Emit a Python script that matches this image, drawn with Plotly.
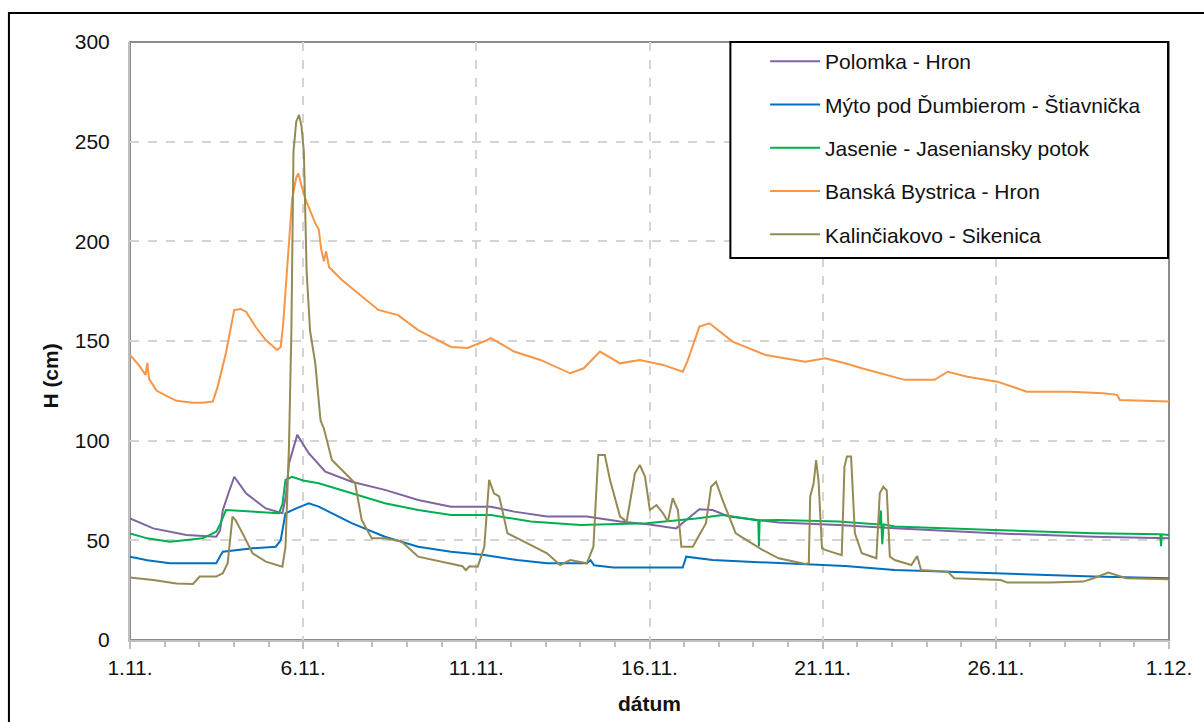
import plotly.graph_objects as go

# ---- data (day offset from 1.11., water level H in cm) ----
tick_vals = [0, 5, 10, 15, 20, 25, 30]
tick_text = ["1.11.", "6.11.", "11.11.", "16.11.", "21.11.", "26.11.", "1.12."]
y_ticks = [0, 50, 100, 150, 200, 250, 300]

names = ["Polomka - Hron", "Mýto pod Ďumbierom - Štiavnička", "Jasenie - Jaseniansky potok",
         "Banská Bystrica - Hron", "Kalinčiakovo - Sikenica"]

polomka_t = [0, 0.67, 1.63, 2.49, 2.6, 2.68, 2.85, 3.01, 3.35, 3.92, 4.4, 4.5, 4.59, 4.83, 5.16, 5.64, 6.4,
             7.36, 8.32, 9.27, 10.13, 10.42, 11.09, 12.04, 13.19, 14.15, 15.0, 15.77, 16.06, 16.44, 16.82,
             17.3, 18.73, 20.45, 22.08, 24.95, 27.82, 30]
polomka_h = [61, 56, 52.7, 51.8, 55, 65.2, 74, 81.9, 73.6, 66, 63.6, 72, 88.7, 102.9, 93.7, 84.5, 79.4,
             75.3, 70.2, 66.9, 66.9, 66.9, 64.4, 61.9, 61.9, 59.4, 58, 56, 60.2, 65.6, 65.2,
             61.9, 58.9, 57.7, 56, 53.5, 51.8, 51]

myto_t = [0, 0.5, 1.15, 2.49, 2.6, 2.68, 3.54, 4.21, 4.35, 4.49, 4.8, 5.16, 5.45, 6.4, 7.36, 8.32, 9.27,
          10.23, 11.18, 12.04, 13.19, 13.3, 13.4, 13.96, 15.96, 16.06, 16.82, 18.73, 20.65, 22.08, 24.95,
          27.82, 30]
myto_h = [41.8, 40, 38.5, 38.5, 42, 44.3, 46, 46.8, 50, 63.6, 66, 68.6, 66.9, 58.6, 51.8, 46.8, 44.3,
          42.6, 40.1, 38.5, 38.5, 40, 37.5, 36.4, 36.4, 41.8, 40.1, 38.5, 37.1, 35.1, 33.5,
          31.8, 31]

jasenie_t = [0, 0.5, 1.15, 1.6, 2.1, 2.49, 2.6, 2.77, 3.54, 4.3, 4.4, 4.49, 4.68, 5.0, 5.45, 6.4, 7.36,
             8.32, 9.27, 10.42, 11.0, 11.57, 13.0, 14.91, 16.35, 17.11, 18.14, 18.16, 18.18, 18.73, 20.45,
             21.64, 21.68, 21.72, 21.76, 22.08, 24.95, 27.82, 29.75, 29.77, 29.79, 30]
jasenie_h = [53.5, 51, 49.3, 50, 51, 54.3, 58, 65.2, 64.4, 63.6, 68, 80.3, 81.9, 80, 78.6, 73.6, 68.6,
             65.2, 62.7, 62.7, 61, 59.4, 57.7, 58.6, 61, 62.7, 60, 47, 60, 60.2, 59.4,
             58, 65, 48, 58, 56.9, 55.2, 53.5, 53, 47, 53, 52.7]

bb_t = [0, 0.25, 0.45, 0.5, 0.55, 0.77, 1.0, 1.34, 1.81, 2.1, 2.39, 2.53, 2.77, 3.01, 3.2, 3.35, 3.63,
        3.92, 4.25, 4.35, 4.42, 4.55, 4.68, 4.8, 4.86, 4.95, 5.07, 5.35, 5.45, 5.52, 5.6, 5.66, 5.75, 6.12,
        6.69, 7.17, 7.74, 8.32, 9.27, 9.75, 10.32, 10.42, 11.09, 11.85, 12.71, 13.1, 13.57, 14.15, 14.72,
        15.39, 15.96, 16.1, 16.44, 16.73, 17.4, 18.35, 19.5, 20.07, 20.65, 21.13, 22.37, 23.23, 23.61,
        24.18, 25.04, 25.9, 27.15, 28.1, 28.5, 28.58, 30.0]
bb_h = [143, 138, 133, 139, 131, 125, 123, 120, 119, 119, 119.6, 127, 144, 165.6, 166, 164.7, 157,
        150.5, 145.5, 147, 158, 190, 221, 232, 234, 228, 221, 209, 206, 196, 190, 195, 187, 180.6,
        172.3, 165.6, 163, 155.5, 147, 146.5, 150.5, 151.4, 144.7, 140.5, 133.8, 136.3, 144.7, 138.8, 140.5,
        138, 134.6, 140, 157.2, 158.9, 149.7, 143, 139.6, 141.3, 138.8, 136.3, 130.5, 130.5, 134.6,
        132.1, 129.6, 124.6, 124.6, 123.8, 123, 120.4, 119.6]

kal_t = [0, 0.67, 1.34, 1.82, 2.01, 2.49, 2.68, 2.82, 2.96, 3.05, 3.25, 3.54, 3.92, 4.4, 4.49, 4.59,
         4.66, 4.72, 4.8, 4.88, 4.95, 5.02, 5.1, 5.2, 5.35, 5.5, 5.55, 5.6, 5.83, 6.21, 6.5, 6.69, 6.98,
         7.36, 7.84, 8.32, 9.27, 9.6, 9.7, 9.8, 10.04, 10.23, 10.37, 10.51, 10.66, 10.9, 11.28, 12.04,
         12.42, 12.71, 13.19, 13.38, 13.52, 13.71, 13.86, 14.15, 14.34, 14.58, 14.72, 14.87, 15.01, 15.2,
         15.39, 15.53, 15.67, 15.82, 15.92, 16.25, 16.63, 16.78, 16.92, 17.11, 17.49, 18.26, 18.73, 19.5,
         19.6, 19.64, 19.74, 19.81, 19.88, 19.98, 20.07, 20.55, 20.63, 20.7, 20.82, 20.93, 21.13, 21.55,
         21.65, 21.75, 21.85, 21.94, 22.08, 22.56, 22.73, 22.84, 23.61, 23.8, 25.14, 25.33, 26.57, 27.53,
         27.82, 28.25, 28.77, 30]
kal_h = [31.3, 30.1, 28.4, 28.1, 31.8, 31.8, 33.5, 38.5, 61.9, 60, 53.5, 43.5, 39.3, 36.8, 46.8, 97,
         155, 245, 260, 263.4, 258, 245, 185, 155, 138.8, 110.4, 108, 106, 90.3, 83.6, 78.6, 60.2, 51,
         51, 49.4, 41.8, 38.5, 37, 35, 37, 36.8, 46.8, 80.3, 73.6, 72, 53.5, 50.2, 43.5,
         37.6, 40.1, 38.5, 46.8, 92.8, 92.8, 80.3, 61.9, 59.4, 83.6, 87.8, 82, 65.2, 67.7,
         63.6, 59.4, 71.1, 65.2, 46.8, 46.8, 58.6, 76.9, 79.4, 70.2, 53.5, 45.2, 41, 38.1,
         38.5, 72, 78.6, 90.3, 80, 46, 45.2, 42.6, 87, 92, 92, 53.5, 43.5, 41,
         73.6, 76.9, 75, 41.8, 40.1, 37.6, 42.1, 35.1, 34.3, 31, 30.1, 28.8, 28.8, 29.3,
         31, 33.8, 31, 30.5]

colors = ["#8064A2", "#0070C0", "#00B050", "#F79646", "#948A54"]
series = [(polomka_t, polomka_h), (myto_t, myto_h), (jasenie_t, jasenie_h), (bb_t, bb_h), (kal_t, kal_h)]

FONT = "Liberation Sans, Arial, sans-serif"
FS = 21
W, H = 1204, 722
L, R, T, B = 130, 27, 42, 82
PW, PH = W - L - R, H - T - B


def px(x):
    return (x - L) / PW


def py(y):
    return (H - B - y) / PH


fig = go.Figure()
for i, (name, (t, h)) in enumerate(zip(names, series)):
    fig.add_trace(go.Scatter(x=t, y=h, name=name, mode="lines", legendgroup=str(i),
                             line=dict(color=colors[i], width=2)))

fig.update_layout(
    width=W, height=H, margin=dict(l=L, r=R, t=T, b=B),
    paper_bgcolor="white", plot_bgcolor="white",
    font=dict(family=FONT, size=FS, color="#111111"),
    showlegend=True,
    legend=dict(x=px(770), y=py(41), xanchor="left", yanchor="top", bgcolor="rgba(0,0,0,0)",
                borderwidth=0, tracegroupgap=13, itemwidth=50,
                font=dict(family=FONT, size=FS, color="#111111")),
    xaxis=dict(range=[0, 30], tickvals=tick_vals, ticktext=tick_text, showgrid=True,
               gridcolor="#D4D4D4", griddash="dash", gridwidth=1.5,
               showline=True, linecolor="#BFBFBF", linewidth=2,
               ticks="outside", ticklen=7, tickcolor="#BFBFBF", tickwidth=1.5,
               ticklabelstandoff=1,
               minor=dict(dtick=1, ticks="outside", ticklen=5, tickcolor="#BFBFBF", showgrid=False),
               zeroline=False),
    yaxis=dict(range=[0, 300], tickvals=y_ticks, showgrid=True,
               gridcolor="#D4D4D4", griddash="dash", gridwidth=1.5,
               showline=True, linecolor="#BFBFBF", linewidth=2, ticks="",
               ticklabelstandoff=14, zeroline=False),
    shapes=[
        dict(type="rect", xref="paper", yref="paper", x0=0, x1=1, y0=0, y1=1,
             line=dict(color="#8C8C8C", width=2), layer="below"),
        dict(type="rect", xref="paper", yref="paper", x0=px(735), x1=px(1176), y0=py(258), y1=py(42),
             line=dict(color="black", width=2), fillcolor="white", layer="above"),
        dict(type="rect", xref="paper", yref="paper", x0=px(8), x1=px(1215), y0=py(735), y1=py(13),
             line=dict(color="black", width=2), layer="above"),
    ],
    annotations=[
        dict(text="<b>H (cm)</b>", xref="paper", yref="paper", x=px(49), y=py(376), textangle=-90,
             xanchor="center", yanchor="middle",
             showarrow=False, font=dict(family=FONT, size=FS, color="#111111")),
        dict(text="<b>dátum</b>", xref="paper", yref="paper", x=px(653), y=py(703),
             xanchor="center", yanchor="middle",
             showarrow=False, font=dict(family=FONT, size=FS, color="#111111")),
    ],
)

fig.write_html("out.html")
